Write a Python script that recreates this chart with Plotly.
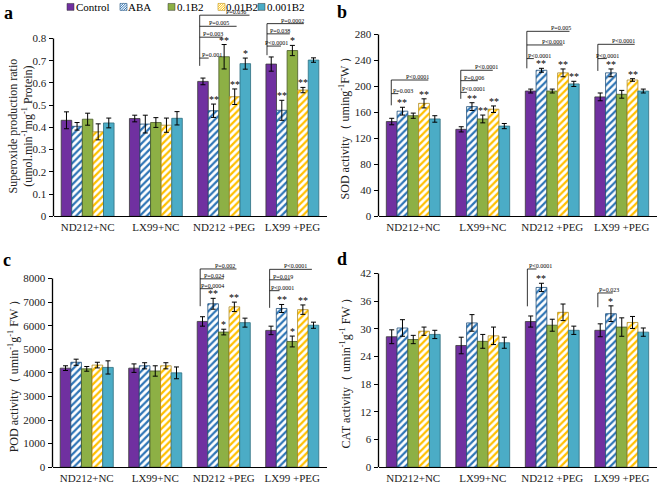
import plotly.graph_objects as go

# ---------------- data ----------------
categories = ["ND212+NC", "LX99+NC", "ND212 +PEG", "LX99 +PEG"]
treatments = ["Control", "ABA", "0.1B2", "0.01B2", "0.001B2"]

# a: superoxide production ratio
sup_control = [0.432, 0.440, 0.607, 0.685]
sup_aba = [0.405, 0.415, 0.475, 0.477]
sup_b2_01 = [0.437, 0.422, 0.718, 0.746]
sup_b2_001 = [0.380, 0.410, 0.538, 0.568]
sup_b2_0001 = [0.420, 0.441, 0.687, 0.703]
sup_control_err = [0.038, 0.015, 0.015, 0.032]
sup_aba_err = [0.017, 0.040, 0.030, 0.045]
sup_b2_01_err = [0.027, 0.022, 0.055, 0.023]
sup_b2_001_err = [0.036, 0.032, 0.035, 0.012]
sup_b2_0001_err = [0.022, 0.030, 0.025, 0.010]

# b: SOD activity
sod_control = [146, 134, 193, 184]
sod_aba = [162, 169, 225, 221]
sod_b2_01 = [155, 150, 193, 188]
sod_b2_001 = [174, 165, 221, 210]
sod_b2_0001 = [150, 139, 204, 193]
sod_control_err = [5, 4, 3, 6]
sod_aba_err = [6, 6, 3, 6]
sod_b2_01_err = [4, 6, 3, 6]
sod_b2_001_err = [7, 5, 6, 2]
sod_b2_0001_err = [5, 4, 4, 3]

# c: POD activity
pod_control = [4200, 4200, 6180, 5800]
pod_aba = [4450, 4300, 6930, 6730]
pod_b2_01 = [4170, 4080, 5730, 5330]
pod_b2_001 = [4330, 4300, 6800, 6680]
pod_b2_0001 = [4230, 4000, 6130, 6020]
pod_control_err = [100, 180, 200, 180]
pod_aba_err = [130, 130, 230, 170]
pod_b2_01_err = [100, 220, 120, 230]
pod_b2_001_err = [120, 130, 200, 200]
pod_b2_0001_err = [280, 250, 190, 130]

# d: CAT activity
cat_control = [28.3, 26.4, 31.6, 29.7]
cat_aba = [30.2, 31.3, 39.0, 33.3]
cat_b2_01 = [27.7, 27.3, 30.8, 30.4]
cat_b2_001 = [29.5, 28.5, 33.6, 31.4]
cat_b2_0001 = [28.8, 27.0, 29.7, 29.3]
cat_control_err = [1.5, 1.8, 1.2, 1.4]
cat_aba_err = [1.8, 1.8, 0.9, 1.7]
cat_b2_01_err = [0.9, 1.5, 1.3, 2.0]
cat_b2_001_err = [0.9, 1.9, 1.8, 1.3]
cat_b2_0001_err = [0.9, 1.2, 0.9, 0.9]

# tick labels
ticks_a = [0, 0.1, 0.2, 0.3, 0.4, 0.5, 0.6, 0.7, 0.8]
ticks_b = [0, 40, 80, 120, 160, 200, 240, 280]
ticks_c = [0, 1000, 2000, 3000, 4000, 5000, 6000, 7000, 8000]
ticks_d = [0, 6, 12, 18, 24, 30, 36, 42]

# significance stars: (category index, treatment index, mark)
stars_a = [(2, 1, "**"), (2, 2, "**"), (2, 3, "**"), (2, 4, "*"), (3, 1, "**"), (3, 2, "*"), (3, 3, "**")]
stars_b = [(0, 1, "**"), (0, 3, "**"), (1, 1, "**"), (1, 2, "**"), (1, 3, "**"),
           (2, 1, "**"), (2, 3, "**"), (2, 4, "**"), (3, 1, "**"), (3, 3, "**")]
stars_c = [(2, 1, "**"), (2, 2, "*"), (2, 3, "**"), (3, 1, "**"), (3, 2, "*"), (3, 3, "**")]
stars_d = [(2, 1, "**"), (3, 1, "*")]

# P-value labels per bracket group: (category, [labels])
pvals_a = [(2, ["P=0.001", "P=0.003", "P=0.005", "P=0.036"]), (3, ["P<0.0001", "P=0.038", "P=0.0002"])]
pvals_b = [(0, ["P=0.003", "P<0.0001"]), (1, ["P<0.0001", "P=0.006", "P<0.0001"]),
           (2, ["P<0.0001", "P<0.0001", "P=0.005"]), (3, ["P<0.0001", "P<0.0001"])]
pvals_c = [(2, ["P=0.0004", "P=0.024", "P=0.002"]), (3, ["P<0.0001", "P=0.019", "P<0.0001"])]
pvals_d = [(2, ["P<0.0001"]), (3, ["P=0.023"])]

# ---------------- layout / style ----------------
W, H = 658, 488
FONT = "Liberation Serif"
colors = ["#7030A0", "#2E75B6", "#8DB045", "#FFC000", "#4BACC6"]
patterned = [False, True, False, True, False]
outline = ["#3a3a3a", "#1F4E79", "#4a5a2a", "#B08A20", "#2f6f80"]
BARGAP = 0.225
BW = (1 - BARGAP) / 5


def px(x):
    return x / W


def py(y):
    return 1 - y / H


# bracket geometry (per group, in bar-slot units): vertical x, bottom y, [(level, end slot, text slot)]
geom_a = [(-0.31, 0.677, [(0.712, 0.54, 0.82), (0.806, 1.86, 0.96), (0.855, 3.18, 1.53), (0.905, 4.4, 3.08)]),
          (-0.4, 0.725, [(0.766, 0.92, 0.49), (0.821, 1.76, 0.82), (0.867, 3.08, 2.05)])]
geom_b = [(-0.04, 171, [(189, 0.61, 1.03), (210, 3.4, 2.4)]),
          (-0.04, 181, [(191, 0.52, 1.12), (209, 1.54, 1.17), (225, 2.93, 2.32)]),
          (-0.36, 228, [(243, 0.29, 0.84), (264, 2.97, 2.1), (285, 3.6, 2.83)]),
          (-0.22, 224, [(243, 0.61, 0.66), (265, 3.2, 2.19)])]
geom_c = [(-0.22, 6827, [(7569, 0.98, 0.98), (7987, 2.0, 1.12), (8406, 3.2, 2.1)]),
          (-0.13, 6757, [(7485, 0.8, 1.12), (7946, 1.81, 1.17), (8390, 3.85, 2.28)])]
geom_d = [(-0.31, 34.9, [(43.0, 0.54, 0.87)]),
          (-0.22, 34.7, [(37.8, 1.17, 0.82)])]

panels = [
    dict(s="", letter="a", left=53.5, right=326.5, bottom=219, ppu=225.0, top=0.95,
         ticks=ticks_a,
         vals=[sup_control, sup_aba, sup_b2_01, sup_b2_001, sup_b2_0001],
         errs=[sup_control_err, sup_aba_err, sup_b2_01_err, sup_b2_001_err, sup_b2_0001_err],
         stars=stars_a, pvals=pvals_a, geom=geom_a,
         title="Superoxide production ratio<br>(umol.min<sup>-1</sup>mg<sup>-1</sup> Protein)",
         tpos=(21, 128), lpos=(8, 13)),
    dict(s="2", letter="b", left=378.5, right=656.5, bottom=219, ppu=184 / 280, top=320,
         ticks=ticks_b,
         vals=[sod_control, sod_aba, sod_b2_01, sod_b2_001, sod_b2_0001],
         errs=[sod_control_err, sod_aba_err, sod_b2_01_err, sod_b2_001_err, sod_b2_0001_err],
         stars=stars_b, pvals=pvals_b, geom=geom_b,
         title="SOD activity（ uming<sup>-1</sup>FW ）", tpos=(344, 127), lpos=(342, 12)),
    dict(s="3", letter="c", left=52.5, right=326.5, bottom=473, ppu=191 / 8000, top=9000,
         ticks=ticks_c,
         vals=[pod_control, pod_aba, pod_b2_01, pod_b2_001, pod_b2_0001],
         errs=[pod_control_err, pod_aba_err, pod_b2_01_err, pod_b2_001_err, pod_b2_0001_err],
         stars=stars_c, pvals=pvals_c, geom=geom_c,
         title="POD activity（ umin<sup>-1</sup>g<sup>-1</sup> FW ）", tpos=(13, 378), lpos=(7, 263)),
    dict(s="4", letter="d", left=378.5, right=656.5, bottom=473, ppu=196 / 42, top=45,
         ticks=ticks_d,
         vals=[cat_control, cat_aba, cat_b2_01, cat_b2_001, cat_b2_0001],
         errs=[cat_control_err, cat_aba_err, cat_b2_01_err, cat_b2_001_err, cat_b2_0001_err],
         stars=stars_d, pvals=pvals_d, geom=geom_d,
         title="CAT activity（ umin<sup>-1</sup>g<sup>-1</sup> FW ）", tpos=(345, 375), lpos=(342, 262)),
]

fig = go.Figure()
shapes = []
annotations = []
xs = list(range(len(categories)))

for p in panels:
    s = p["s"]
    xa, ya = "x" + s, "y" + s
    for j, name in enumerate(treatments):
        marker = dict(color=colors[j], line=dict(color=outline[j], width=0.8))
        if patterned[j]:
            marker["pattern"] = dict(shape="/", fgcolor=colors[j], bgcolor="white",
                                     size=5, solidity=0.45, fillmode="replace")
        fig.add_trace(go.Bar(
            x=xs, y=p["vals"][j], name=name, xaxis=xa, yaxis=ya, showlegend=False,
            marker=marker, hoverinfo="skip",
            error_y=dict(type="data", array=p["errs"][j], color="black", thickness=1, width=2.5),
        ))
    bottom_paper = py(p["bottom"])
    top_paper = py(p["bottom"] - p["top"] * p["ppu"])
    fig.layout["xaxis" + s] = dict(domain=[px(p["left"]), px(p["right"])], range=[-0.5, 3.5],
                                   anchor=ya, tickvals=xs, ticktext=categories, ticks="",
                                   showline=True, linecolor="black", linewidth=1.3,
                                   showgrid=False, zeroline=False, fixedrange=True,
                                   tickfont=dict(family=FONT, size=11, color="#222"))
    fig.layout["yaxis" + s] = dict(domain=[bottom_paper, top_paper], range=[0, p["top"]],
                                   anchor=xa, tickvals=p["ticks"], ticktext=[f"{v:g}" for v in p["ticks"]],
                                   ticks="outside", ticklen=4, tickwidth=1, tickcolor="black",
                                   showline=False, showgrid=False, zeroline=False, fixedrange=True,
                                   tickfont=dict(family=FONT, size=11, color="#222"))
    # y axis line up to last tick
    shapes.append(dict(type="line", xref=xa + " domain", yref=ya, x0=0, x1=0,
                       y0=0, y1=p["ticks"][-1], line=dict(color="black", width=1.3)))
    # stars
    for (ci, tj, mark) in p["stars"]:
        xpos = ci + (tj - 2) * BW
        ytop = p["vals"][tj][ci] + p["errs"][tj][ci]
        annotations.append(dict(x=xpos, y=ytop, xref=xa, yref=ya, text=mark, showarrow=False,
                                yanchor="bottom", xanchor="center", yshift=-2, borderpad=0,
                                font=dict(family=FONT, size=10, color="black")))
    # brackets
    for (ci, labels), (xv, yb, items) in zip(p["pvals"], p["geom"]):
        xv_d = ci + (xv - 2) * BW
        ymax = max(it[0] for it in items)
        shapes.append(dict(type="line", xref=xa, yref=ya, x0=xv_d, x1=xv_d, y0=yb, y1=ymax,
                           line=dict(color="black", width=0.8)))
        for lab, (lev, xe, xt) in zip(labels, items):
            shapes.append(dict(type="line", xref=xa, yref=ya, x0=xv_d, x1=ci + (xe - 2) * BW,
                               y0=lev, y1=lev, line=dict(color="black", width=0.8)))
            annotations.append(dict(x=ci + (xt - 2) * BW, y=lev, xref=xa, yref=ya, text=lab,
                                    showarrow=False, yanchor="bottom", xanchor="center", yshift=-1,
                                    borderpad=0, font=dict(family=FONT, size=6, color="black")))
    # y title
    annotations.append(dict(x=px(p["tpos"][0]), y=py(p["tpos"][1]), xref="paper", yref="paper",
                            text=p["title"], textangle=-90, showarrow=False,
                            xanchor="center", yanchor="middle",
                            font=dict(family=FONT, size=12, color="#222")))
    # panel letter
    annotations.append(dict(x=px(p["lpos"][0]), y=py(p["lpos"][1]), xref="paper", yref="paper",
                            text="<b>" + p["letter"] + "</b>", showarrow=False,
                            xanchor="center", yanchor="middle",
                            font=dict(family=FONT, size=18, color="black")))

# ---------------- manual legend ----------------
leg_sym_left = [67, 120, 168, 218, 258]
leg_text_left = [75, 127, 176, 225, 266]
LY, LS = 7, 7
for j, name in enumerate(treatments):
    l = leg_sym_left[j]
    t = LY - LS / 2
    if patterned[j]:
        shapes.append(dict(type="rect", xref="paper", yref="paper", x0=px(l), x1=px(l + LS),
                           y0=py(t + LS), y1=py(t), fillcolor="white",
                           line=dict(color=outline[j], width=0.6)))
        path = ""
        c = 1.0
        while c < 2 * LS:
            xa0 = max(0.0, c - LS)
            xa1 = min(float(LS), c)
            p0 = (l + xa0, t + (c - xa0))
            p1 = (l + xa1, t + (c - xa1))
            path += f"M{px(p0[0]):.5f},{py(p0[1]):.5f} L{px(p1[0]):.5f},{py(p1[1]):.5f} "
            c += 2.4
        shapes.append(dict(type="path", xref="paper", yref="paper", path=path,
                           line=dict(color=colors[j], width=1.0)))
    else:
        shapes.append(dict(type="rect", xref="paper", yref="paper", x0=px(l), x1=px(l + LS),
                           y0=py(t + LS), y1=py(t), fillcolor=colors[j],
                           line=dict(color="#333", width=0.5)))
    annotations.append(dict(x=px(leg_text_left[j]), y=py(LY), xref="paper", yref="paper",
                            text=name, showarrow=False, xanchor="left", yanchor="middle",
                            borderpad=0, font=dict(family=FONT, size=11, color="black")))

fig.update_layout(
    width=W, height=H, margin=dict(l=0, r=0, t=0, b=0),
    paper_bgcolor="white", plot_bgcolor="white",
    barmode="group", bargap=BARGAP, bargroupgap=0,
    showlegend=False, shapes=shapes, annotations=annotations,
    font=dict(family=FONT, color="#222"), hovermode=False,
)

fig.write_html("out.html", config={"displayModeBar": False},
               post_script="document.body.style.margin='0';")
